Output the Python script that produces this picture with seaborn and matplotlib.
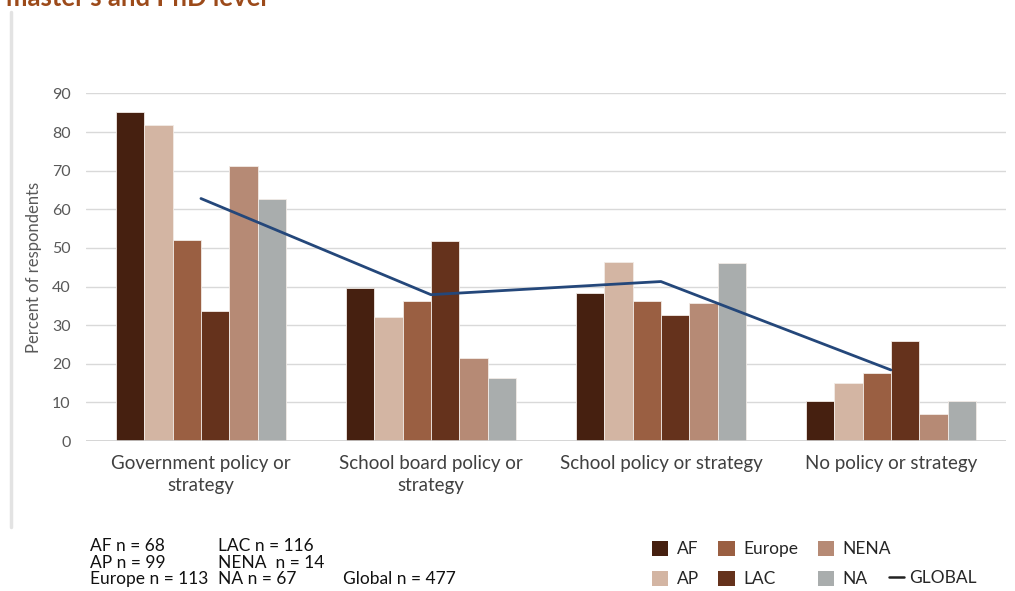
import numpy as np
import pandas as pd
import seaborn as sns
import matplotlib.pyplot as plt
from matplotlib.lines import Line2D
from matplotlib.patches import Patch

# policy categories shown on the x axis
categories = ["Government policy or\nstrategy", "School board policy or\nstrategy",
              "School policy or strategy", "No policy or strategy"]
regions = ["AF", "AP", "Europe", "LAC", "NENA", "NA"]

# percent of respondents per region
af = [85.2, 39.6, 38.3, 10.4]
ap = [81.9, 32.2, 46.4, 15.1]
europe = [52.1, 36.3, 36.2, 17.7]
lac = [33.6, 51.7, 32.6, 25.8]
nena = [71.2, 21.4, 35.7, 7.1]
na = [62.6, 16.3, 46.2, 10.4]
global_pct = [62.8, 37.9, 41.3, 18.4]

sample_sizes = ["AF n = 68", "AP n = 99", "Europe n = 113",
                "LAC n = 116", "NENA  n = 14", "NA n = 67", "Global n = 477"]

colors = ["#462010", "#d3b5a3", "#9a5f42", "#65321c", "#b68a75", "#a9adad"]
line_color = "#24477a"

rows = []
for reg, vals in zip(regions, [af, ap, europe, lac, nena, na]):
    for cat, v in zip(categories, vals):
        rows.append({"category": cat, "region": reg, "pct": v})
df = pd.DataFrame(rows)

sns.set_theme(style="white")
plt.rcParams["font.family"] = ["Lato", "DejaVu Sans"]

fig = plt.figure(figsize=(10.15, 5.91), dpi=100)
ax = fig.add_axes([0.0847, 0.2538, 0.9063, 0.588])

sns.barplot(data=df, x="category", y="pct", hue="region", order=categories,
            hue_order=regions, palette=colors, width=0.74, saturation=1,
            edgecolor="#f2ebe6", linewidth=0.6, legend=False, ax=ax)
ax.plot(np.arange(len(categories)), global_pct, color=line_color, lw=2, zorder=5)

ax.set_xlim(-0.5, len(categories) - 0.5)
ax.set_ylim(0, 90)
ax.set_yticks(range(0, 91, 10))
ax.grid(axis="y", color="#d9d9d9", lw=1)
ax.set_axisbelow(True)
for s in ax.spines.values():
    s.set_visible(False)
ax.axhline(0, color="#d0d0d0", lw=1.2)
ax.tick_params(axis="y", length=0, pad=11, labelsize=11.5, labelcolor="#595959")
ax.tick_params(axis="x", length=0, pad=10, labelsize=13.5, labelcolor="#404040")
for t in ax.get_xticklabels():
    t.set_linespacing(1.4)
ax.set_xlabel("")
ax.set_ylabel("Percent of respondents", fontsize=12, color="#595959", labelpad=7)

# frame line on the left and cropped title at the top
fig.add_artist(Line2D([0.011, 0.011], [1 - 12 / 591, 1 - 527 / 591],
                      color="#e3e3e3", lw=2.5, transform=fig.transFigure))
fig.text(6 / 1015, 1 - 6 / 591, "master's and PhD level", fontsize=18.5,
         fontweight="bold", color="#9c4a1a", va="baseline")

# sample sizes
text_kw = dict(fontsize=12.5, color="#111111", va="center")
for i, s in enumerate(sample_sizes[:3]):
    fig.text(90 / 1015, 1 - (546 + i * 16.5) / 591, s, **text_kw)
for i, s in enumerate(sample_sizes[3:6]):
    fig.text(218 / 1015, 1 - (546 + i * 16.5) / 591, s, **text_kw)
fig.text(343 / 1015, 1 - 579 / 591, sample_sizes[6], **text_kw)

# legend: region swatches
handles = [Patch(facecolor=c, edgecolor="none") for c in colors]
fig.legend(handles, regions, ncol=3, loc="center left",
           bbox_to_anchor=(652 / 1015, 1 - 564 / 591), frameon=False,
           fontsize=12.5, handlelength=0.95, handleheight=1.0,
           handletextpad=0.5, columnspacing=1.1, labelspacing=0.75,
           borderpad=0, borderaxespad=0)
# legend: global line
fig.legend([Line2D([0], [0], color="#222222", lw=1.8)], ["GLOBAL"],
           loc="center left", bbox_to_anchor=(889 / 1015, 1 - 578 / 591),
           frameon=False, fontsize=12.5, handlelength=0.85,
           handletextpad=0.3, borderpad=0, borderaxespad=0)

fig.savefig("out.png", dpi=100)
